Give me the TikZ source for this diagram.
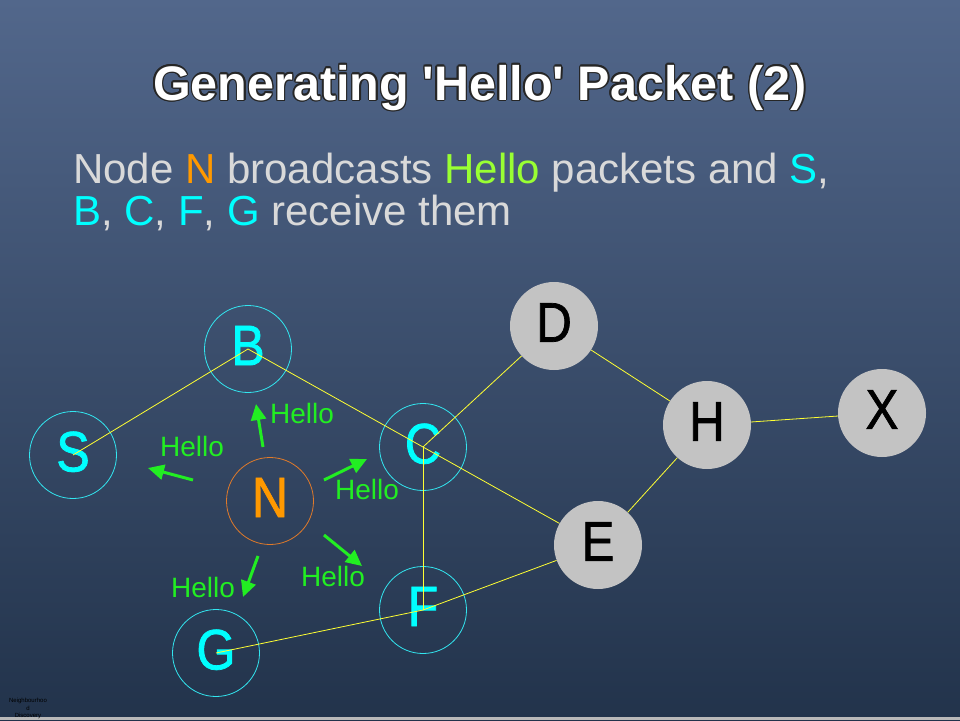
\documentclass[tikz,border=0pt]{standalone}
\usepackage{fontspec}
\setmainfont{Liberation Sans}[Ligatures=TeXOff]
\newfontfamily\letterfont{Liberation Sans}[FakeStretch=0.88,FakeBold=1.3]
\usetikzlibrary{arrows.meta}
\pgfdeclarelayer{bg}
\pgfdeclarelayer{fg}
\pgfsetlayers{bg,main,fg}
\definecolor{bgtop}{HTML}{52678B}
\definecolor{bgbot}{HTML}{22334B}
\definecolor{txt}{HTML}{D9D9D9}
\definecolor{orng}{HTML}{FF9900}
\definecolor{hgreen}{HTML}{99FF33}
\definecolor{cyn}{HTML}{00FFFF}
\definecolor{ring}{HTML}{33E6F0}
\definecolor{nring}{HTML}{E07A2A}
\definecolor{arr}{HTML}{22EE22}
\definecolor{edgecol}{HTML}{FFFF33}
\definecolor{gfill}{HTML}{C3C3C3}
\newcommand{\lift}[1]{\raisebox{7pt}{#1}}
\begin{document}
\begin{tikzpicture}[x=1pt,y=-1pt,
  rx/.style={circle, draw=ring, line width=0.8pt, minimum size=87pt, inner sep=0pt, text=cyn, font=\fontsize{57}{57}\letterfont},
  nx/.style={rx, draw=nring, text=orng},
  gx/.style={circle, fill=gfill, minimum size=88pt, inner sep=0pt, text=black, font=\fontsize{56}{56}\letterfont},
  link/.style={draw=edgecol, line width=0.8pt},
  hello/.style={text=arr, font=\fontsize{28}{28}\selectfont, inner sep=0pt},
  bcast/.style={draw=arr, line width=3pt, -{Triangle[length=16pt,width=15pt]}},
  titletxt/.style={anchor=base, inner sep=0pt, font=\fontsize{48.5}{48.5}\selectfont\bfseries},
  subtxt/.style={anchor=base west, inner sep=0pt, text=txt, font=\fontsize{42}{42}\selectfont}
]
\useasboundingbox (0,0) rectangle (960,720);
\begin{pgfonlayer}{bg}
  \shade[top color=bgtop, bottom color=bgbot] (0,0) rectangle (960,720);
  \fill[gray!55] (0,717) rectangle (960,720);
\end{pgfonlayer}

% title with outline
\foreach \a in {0,30,...,330}
  \node[titletxt, text=black!85] at ([shift={(\a:1.4)}]480,100) {Generating 'Hello' Packet (2)};
\node[titletxt, text=white] (title) at (480,100) {Generating 'Hello' Packet (2)};

% subtitle
\node[subtxt] (sub1) at (73,183) {Node \textcolor{orng}{N} broadcasts \textcolor{hgreen}{Hello} packets and \textcolor{cyn}{S},};
\node[subtxt] (sub2) at (73,225) {\textcolor{cyn}{B}, \textcolor{cyn}{C}, \textcolor{cyn}{F}, \textcolor{cyn}{G} receive them};

% gray nodes on top
\begin{pgfonlayer}{fg}
  \node[gx] (D) at (554,326) {\lift{D}};
  \node[gx] (H) at (707,425) {\lift{H}};
  \node[gx] (X) at (882,413) {\lift{X}};
  \node[gx] (E) at (598,545) {\lift{E}};
\end{pgfonlayer}

% cyan nodes
\node[rx] (S) at (73,455) {\lift{S}};
\node[rx] (B) at (248,349) {\lift{B}};
\node[rx] (C) at (423,447) {\lift{C}};
\node[rx] (F) at (423,610) {\lift{F}};
\node[rx] (G) at (216,653) {\lift{G}};
\node[nx] (N) at (270,501) {\lift{N}};

% links
\draw[link] (S.center) -- (B.center);
\draw[link] (B.center) -- (C.center);
\draw[link] (C.center) -- (E);
\draw[link] (C.center) -- (D);
\draw[link] (C.center) -- (F.center);
\draw[link] (G.center) -- (F.center);
\draw[link] (F.center) -- (E);
\draw[link] (D) -- (H);
\draw[link] (H) -- (X);
\draw[link] (H) -- (E);

% hello arrows
\coordinate (u1) at (263,447); \coordinate (u2) at (256,404);
\coordinate (l1) at (193,480); \coordinate (l2) at (148,468);
\coordinate (r1) at (324,480); \coordinate (r2) at (367,459);
\coordinate (q1) at (324,535); \coordinate (q2) at (362,566);
\coordinate (d1) at (258,556); \coordinate (d2) at (243,597);
\draw[bcast] (u1) -- (u2);
\draw[bcast] (l1) -- (l2);
\draw[bcast] (r1) -- (r2);
\draw[bcast] (q1) -- (q2);
\draw[bcast] (d1) -- (d2);

\node[hello] (h1) at (302,413) {Hello};
\node[hello] (h2) at (192,446) {Hello};
\node[hello] (h3) at (367,489) {Hello};
\node[hello] (h4) at (333,576) {Hello};
\node[hello] (h5) at (203,587) {Hello};

% tiny footer text
\node[anchor=north, align=center, inner sep=0pt, text=black, font=\fontsize{6}{7.5}\selectfont] (foot) at (28,698) {Neighbourhoo\\d\\Discovery};
\end{tikzpicture}
\end{document}
